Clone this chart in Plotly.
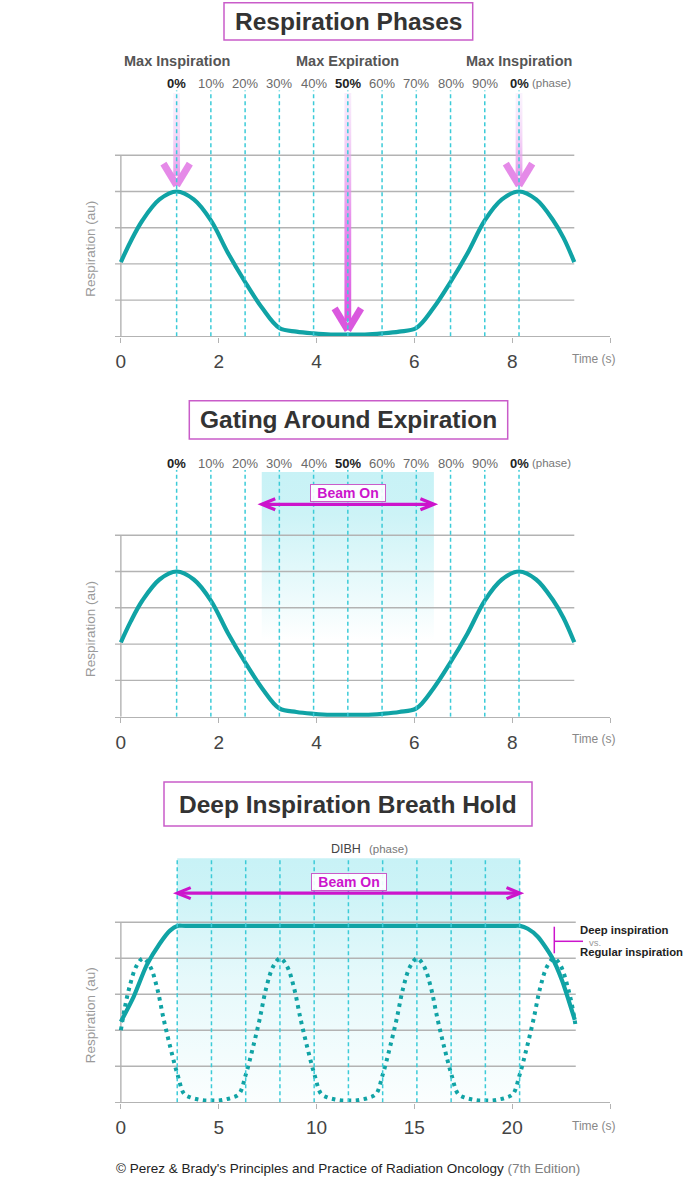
import plotly.graph_objects as go

W, H = 696, 1200
FONT = "Liberation Sans, Arial, Helvetica, sans-serif"

# ---------------- data ----------------
phase_labels = ["0%", "10%", "20%", "30%", "40%", "50%", "60%", "70%", "80%", "90%", "0%"]
phase_times = [1.14, 1.84, 2.54, 3.24, 3.94, 4.64, 5.34, 6.04, 6.74, 7.44, 8.14]
landmark_labels = ["Max Inspiration", "Max Expiration", "Max Inspiration"]
landmark_times = [1.14, 4.64, 8.14]
landmark_levels = [4.0, 0.05, 4.0]

resp_time = [0.0, 0.2, 0.44, 0.79, 1.14, 1.49, 1.84, 2.19, 2.54, 2.89,
             3.24, 3.59, 3.94, 4.29, 4.64, 4.99, 5.34, 5.69, 6.04, 6.39,
             6.74, 7.09, 7.44, 7.79, 8.14, 8.49, 8.84, 9.05, 9.27]
resp_level = [2.05, 2.62, 3.2, 3.78, 4.0, 3.78, 3.2, 2.3, 1.5, 0.78,
              0.23, 0.13, 0.08, 0.05, 0.05, 0.05, 0.08, 0.13, 0.23, 0.78,
              1.5, 2.3, 3.2, 3.78, 4.0, 3.78, 3.2, 2.72, 2.05]

gate_window = [2.88, 6.40]

dibh_phase_times = [2.88, 4.63, 6.38, 8.13, 9.88, 11.63, 13.38, 15.13, 16.88, 18.63, 20.38]
dibh_window = [2.88, 20.4]

free_time = [0.0, 0.2, 0.44, 0.79, 1.14, 1.49, 1.84, 2.19, 2.54, 2.89,
             3.24, 3.59, 3.94, 4.29, 4.64, 4.99, 5.34, 5.69, 6.04, 6.39,
             6.74, 7.09, 7.44, 7.79, 8.14, 8.49, 8.84, 9.19, 9.54, 9.89,
             10.24, 10.59, 10.94, 11.29, 11.64, 11.99, 12.34, 12.69, 13.04, 13.39,
             13.74, 14.09, 14.44, 14.79, 15.14, 15.49, 15.84, 16.19, 16.54, 16.89,
             17.24, 17.59, 17.94, 18.29, 18.64, 18.99, 19.34, 19.69, 20.04, 20.39,
             20.74, 21.09, 21.44, 21.79, 22.14, 22.49, 22.84, 23.05, 23.25]
free_level = [2.0, 2.62, 3.2, 3.78, 4.0, 3.78, 3.2, 2.3, 1.5, 0.78,
              0.23, 0.13, 0.08, 0.05, 0.05, 0.05, 0.08, 0.13, 0.23, 0.78,
              1.5, 2.3, 3.2, 3.78, 4.0, 3.78, 3.2, 2.3, 1.5, 0.78,
              0.23, 0.13, 0.08, 0.05, 0.05, 0.05, 0.08, 0.13, 0.23, 0.78,
              1.5, 2.3, 3.2, 3.78, 4.0, 3.78, 3.2, 2.3, 1.5, 0.78,
              0.23, 0.13, 0.08, 0.05, 0.05, 0.05, 0.08, 0.13, 0.23, 0.78,
              1.5, 2.3, 3.2, 3.78, 4.0, 3.78, 3.2, 2.72, 2.1]

dibh_time = [0.0, 0.65, 1.32, 2.0, 2.51, 2.88, 3.3, 20.0, 20.4, 20.8, 21.31, 22.02, 22.54, 23.2]
dibh_level = [2.24, 2.93, 3.81, 4.42, 4.77, 4.9, 4.9, 4.9, 4.9, 4.82, 4.6, 4.04, 3.4, 2.29]

ticks_a = [0, 2, 4, 6, 8, 10]
ticks_b = [0, 5, 10, 15, 20, 25]

# ---------------- styling ----------------
TEAL = "#10a3a5"
CYAN_DASH = "#3ccbd8"
GRID = "#b3b3b3"
MAG = "#cc14cc"
BOX = "#c95cc9"
SHADE = "200,242,246"
YTOP = 6.8
X0PX, X1PX = 115, 610

panels = [
    dict(xr="x", yr="y", bottom=336.3, ppl=36.2, rng=[-0.12, 10], ticks=ticks_a, xend=9.27),
    dict(xr="x2", yr="y2", bottom=716.7, ppl=36.3, rng=[-0.12, 10], ticks=ticks_a, xend=9.27),
    dict(xr="x3", yr="y3", bottom=1102.3, ppl=36.0, rng=[-0.3, 25], ticks=ticks_b, xend=23.25),
]
for p in panels:
    p["ppu"] = (X1PX - X0PX) / (p["rng"][1] - p["rng"][0])


def ypaper(py):
    return 1 - py / H


fig = go.Figure()
shapes = []
annotations = []


def add_trace(p, **kw):
    kw.setdefault("hoverinfo", "skip")
    kw.setdefault("showlegend", False)
    fig.add_trace(go.Scatter(xaxis=p["xr"], yaxis=p["yr"], **kw))


def shade(p, x0, x1, y0, y1, cs):
    add_trace(p, x=[x0, x1, x1, x0, x0], y=[y0, y0, y1, y1, y0], mode="lines",
              line=dict(width=0), fill="toself",
              fillgradient=dict(type="vertical", colorscale=cs))


def grid(p):
    gx, gy = [], []
    for lvl in [1, 2, 3, 4, 5]:
        gx += [p["rng"][0], p["xend"], None]
        gy += [lvl, lvl, None]
    gx += [0, 0]
    gy += [0, 5]
    add_trace(p, x=gx, y=gy, mode="lines", line=dict(color=GRID, width=1.4))


def dashed(p, times):
    for t in times:
        shapes.append(dict(type="line", xref=p["xr"], yref=p["yr"], x0=t, x1=t, y0=0, y1=YTOP,
                           line=dict(color=CYAN_DASH, width=1.5, dash="4px,3px"), layer="above"))


def beam_arrow(p, win, lvl):
    a = 13.5 / p["ppu"]
    b = 5.5 / p["ppl"]
    style = dict(color=MAG, width=3.2)
    shapes.append(dict(type="line", xref=p["xr"], yref=p["yr"], x0=win[0] + 0.02, x1=win[1] - 0.02,
                       y0=lvl, y1=lvl, line=style, layer="above"))
    for xe, s in [(win[0], 1), (win[1], -1)]:
        path = f"M {xe + s*a},{lvl + b} L {xe},{lvl} L {xe + s*a},{lvl - b}"
        shapes.append(dict(type="path", xref=p["xr"], yref=p["yr"], path=path, line=style, layer="above"))
    annotations.append(dict(xref=p["xr"], yref=p["yr"], x=(win[0] + win[1]) / 2, y=lvl + 0.32,
                            text="<b>Beam On</b>", showarrow=False,
                            font=dict(family=FONT, size=14, color=MAG),
                            bordercolor=BOX, borderwidth=1, borderpad=0,
                            bgcolor="rgba(255,255,255,0.9)", width=74, height=16))


def title_box(text, x0, x1, y0, y1, size):
    shapes.append(dict(type="rect", xref="paper", yref="paper", x0=x0 / W, x1=x1 / W,
                       y0=ypaper(y1), y1=ypaper(y0), line=dict(color=BOX, width=1.5),
                       fillcolor="white", layer="above"))
    annotations.append(dict(xref="paper", yref="paper", x=(x0 + x1) / 2 / W, y=ypaper((y0 + y1) / 2),
                            text=f"<b>{text}</b>", showarrow=False, xanchor="center", yanchor="middle",
                            font=dict(family=FONT, size=size, color="#333333")))


def phase_row(p, py):
    for lab, t in zip(phase_labels, phase_times):
        bold = lab in ("0%", "50%")
        annotations.append(dict(xref=p["xr"], yref="paper", x=t, y=ypaper(py),
                                text=f"<b>{lab}</b>" if bold else lab, showarrow=False,
                                xanchor="center", yanchor="middle",
                                font=dict(family=FONT, size=13, color="#222222" if bold else "#6a6a6a")))
    annotations.append(dict(xref=p["xr"], yref="paper", x=phase_times[-1], y=ypaper(py - 0.5),
                            xshift=11, text="(phase)", showarrow=False, xanchor="left", yanchor="middle",
                            font=dict(family=FONT, size=11.5, color="#777777")))


def axis_labels(p, py_time):
    annotations.append(dict(xref="paper", yref=p["yr"], x=90.5 / W, y=2.43, text="Respiration (au)",
                            textangle=-90, showarrow=False, xanchor="center", yanchor="middle",
                            font=dict(family=FONT, size=13.5, color="#9a9a9a")))
    annotations.append(dict(xref="paper", yref="paper", x=618 / W, y=ypaper(py_time), text="Time (s)",
                            showarrow=False, xanchor="right", yanchor="middle",
                            font=dict(family=FONT, size=12, color="#888888")))


# ---------------- panel 1 ----------------
p1 = panels[0]
grid(p1)
add_trace(p1, x=resp_time, y=resp_level, mode="lines", line=dict(color=TEAL, width=4.2, shape="spline"))
for i, (t, lvl) in enumerate(zip(landmark_times, landmark_levels)):
    mid = (i == 1)
    tip = lvl + (0.12 if mid else 0.17)
    w = 3.4 / p1["ppu"]
    cs = ([[0, "rgba(220,85,224,1)"], [0.45, "rgba(228,125,232,0.85)"], [0.8, "rgba(234,175,240,0.55)"],
           [1, "rgba(238,205,246,0.35)"]]
          if mid else
          [[0, "rgba(228,135,232,0.85)"], [0.5, "rgba(236,185,242,0.55)"], [1, "rgba(240,215,248,0.3)"]])
    shade(p1, t - w, t + w, tip + 0.25, 6.72, cs)
    ah = 0.27 * 48.9 / p1["ppu"]
    add_trace(p1, x=[t - ah, t, None, t + ah, t], y=[tip + 0.6, tip, None, tip + 0.6, tip], mode="lines",
              line=dict(color="#da58de" if mid else "#e58ae8", width=7))
dashed(p1, phase_times)
phase_row(p1, 83.3)
for lab, t in zip(landmark_labels, landmark_times):
    annotations.append(dict(xref="x", yref="paper", x=t, y=ypaper(60.7), text=f"<b>{lab}</b>",
                            showarrow=False, xanchor="center", yanchor="middle",
                            font=dict(family=FONT, size=14.5, color="#555555")))
axis_labels(p1, 359)
title_box("Respiration Phases", 224, 472.7, 2.7, 40, 24.5)

# ---------------- panel 2 ----------------
p2 = panels[1]
shade(p2, gate_window[0], gate_window[1], 2.1, 6.74,
      [[0, f"rgba({SHADE},0)"], [0.4, f"rgba({SHADE},0.5)"], [0.75, f"rgba({SHADE},0.92)"], [1, f"rgba({SHADE},1)"]])
grid(p2)
add_trace(p2, x=resp_time, y=resp_level, mode="lines", line=dict(color=TEAL, width=4.2, shape="spline"))
dashed(p2, phase_times)
beam_arrow(p2, gate_window, 5.85)
phase_row(p2, 463.5)
axis_labels(p2, 739)
title_box("Gating Around Expiration", 189.3, 507.7, 400.7, 439, 24.5)

# ---------------- panel 3 ----------------
p3 = panels[2]
shade(p3, dibh_window[0], dibh_window[1], 0, 6.78,
      [[0, f"rgba({SHADE},0.08)"], [0.5, f"rgba({SHADE},0.45)"], [0.85, f"rgba({SHADE},0.9)"], [1, f"rgba({SHADE},1)"]])
grid(p3)
add_trace(p3, x=free_time, y=free_level, mode="lines",
          line=dict(color=TEAL, width=4, shape="spline", dash="3.5px,4.5px"))
add_trace(p3, x=dibh_time, y=dibh_level, mode="lines",
          line=dict(color=TEAL, width=4.2, shape="spline", smoothing=0.7))
dashed(p3, dibh_phase_times)
beam_arrow(p3, dibh_window, 5.81)
annotations.append(dict(xref="paper", yref="paper", x=363 / W, y=ypaper(849), text="DIBH", showarrow=False,
                        xanchor="right", yanchor="middle", font=dict(family=FONT, size=12.5, color="#444444")))
annotations.append(dict(xref="paper", yref="paper", x=367 / W, y=ypaper(848.5), text="(phase)", showarrow=False,
                        xanchor="left", yanchor="middle", font=dict(family=FONT, size=11.5, color="#777777")))
axis_labels(p3, 1126)
title_box("Deep Inspiration Breath Hold", 164, 532, 782, 826, 24.5)

# deep vs regular inspiration bracket
shapes.append(dict(type="line", xref="paper", yref="paper", x0=554.3 / W, x1=554.3 / W,
                   y0=ypaper(926.7), y1=ypaper(953.3), line=dict(color=MAG, width=1.5)))
shapes.append(dict(type="line", xref="paper", yref="paper", x0=554.3 / W, x1=583 / W,
                   y0=ypaper(941.3), y1=ypaper(941.3), line=dict(color=MAG, width=1.5)))
for txt, py, size, col, xl in [("<b>Deep inspiration</b>", 930, 11.3, "#222222", 578.3),
                               ("vs.", 942.7, 9.5, "#9a9a9a", 586.5),
                               ("<b>Regular inspiration</b>", 952.3, 11.3, "#222222", 578.3)]:
    annotations.append(dict(xref="paper", yref="paper", x=xl / W, y=ypaper(py), text=txt, showarrow=False,
                            xanchor="left", yanchor="middle", font=dict(family=FONT, size=size, color=col)))

# footer
annotations.append(dict(xref="paper", yref="paper", x=348 / W, y=ypaper(1168),
                        text="© Perez & Brady's Principles and Practice of Radiation Oncology "
                             "<span style='color:#808080'>(7th Edition)</span>",
                        showarrow=False, xanchor="center", yanchor="middle",
                        font=dict(family=FONT, size=13.5, color="#222222")))

# ---------------- axes ----------------
layout_axes = {}
for i, p in enumerate(panels):
    sfx = "" if i == 0 else str(i + 1)
    top_px = p["bottom"] - YTOP * p["ppl"]
    layout_axes["xaxis" + sfx] = dict(
        domain=[X0PX / W, X1PX / W], range=p["rng"], anchor="y" + sfx,
        showline=True, linecolor=GRID, linewidth=1.4, ticks="outside", ticklen=5, tickwidth=1.4,
        tickcolor=GRID, tickvals=p["ticks"], ticktext=[str(v) for v in p["ticks"][:-1]] + [""],
        tickfont=dict(family=FONT, size=19, color="#444444"), showgrid=False, zeroline=False,
        ticklabelstandoff=3, fixedrange=True)
    layout_axes["yaxis" + sfx] = dict(
        domain=[ypaper(p["bottom"]), ypaper(top_px)], range=[0, YTOP], anchor="x" + sfx,
        showline=False, showgrid=False, zeroline=False, showticklabels=False, ticks="",
        fixedrange=True)

fig.update_layout(
    width=W, height=H, margin=dict(l=0, r=0, t=0, b=0),
    paper_bgcolor="white", plot_bgcolor="rgba(0,0,0,0)",
    showlegend=False, shapes=shapes, annotations=annotations,
    font=dict(family=FONT), **layout_axes)

fig.write_html("out.html")
